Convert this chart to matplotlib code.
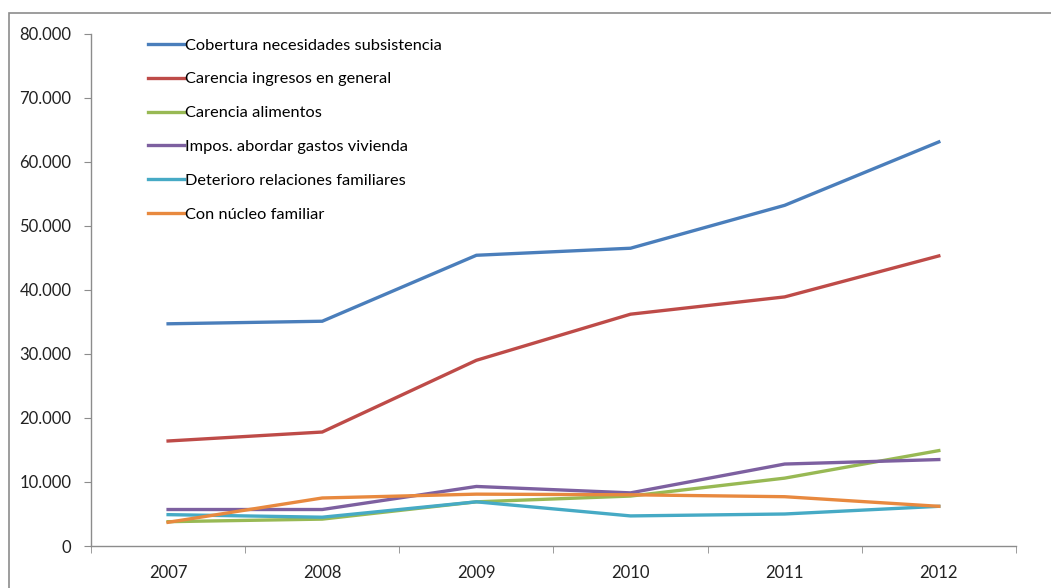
import matplotlib
matplotlib.use("Agg")
import matplotlib.pyplot as plt
from matplotlib.patches import Rectangle
from matplotlib.ticker import FuncFormatter, FixedLocator

# years and series (number of people per reason)
years = ["2007", "2008", "2009", "2010", "2011", "2012"]
cobertura = [34700, 35100, 45400, 46500, 53200, 63100]
carencia_ingresos = [16400, 17800, 29000, 36200, 38900, 45300]
carencia_alimentos = [3800, 4200, 6900, 7800, 10600, 14900]
impos_vivienda = [5700, 5700, 9300, 8300, 12800, 13500]
deterioro_relaciones = [4900, 4500, 6900, 4700, 5000, 6200]
nucleo_familiar = [3700, 7500, 8100, 8000, 7700, 6200]

labels = ["Cobertura necesidades subsistencia",
          "Carencia ingresos en general",
          "Carencia alimentos",
          "Impos. abordar gastos vivienda",
          "Deterioro relaciones familiares",
          "Con núcleo familiar"]
colors = ["#4A7EBB", "#BE4B48", "#98B954", "#7D60A0", "#46AAC5", "#E8893F"]
series = [cobertura, carencia_ingresos, carencia_alimentos,
          impos_vivienda, deterioro_relaciones, nucleo_familiar]

plt.rcParams['font.family'] = ['Lato', 'DejaVu Sans']

fig = plt.figure(figsize=(10.51, 5.88), dpi=100)
ax = fig.add_axes([0.0866, 0.0714, 0.88, 0.8713])

# outer chart border
fig.patches.append(Rectangle((9 / 1051, -0.01), 1.0, (588 - 13) / 588 + 0.01,
                             transform=fig.transFigure, fill=False,
                             edgecolor="#8c8c8c", linewidth=1.2))

x = range(len(years))
for vals, lab, col in zip(series, labels, colors):
    ax.plot(x, vals, color=col, linewidth=2.4, label=lab,
            solid_joinstyle="miter")

ax.set_xlim(-0.5, len(years) - 0.5)
ax.set_ylim(0, 80000)
ax.set_yticks(range(0, 80001, 10000))
ax.yaxis.set_major_formatter(FuncFormatter(
    lambda v, p: "0" if v == 0 else f"{int(v):,}".replace(",", ".")))

ax.set_xticks(list(x))
ax.set_xticklabels(years)
ax.xaxis.set_minor_locator(FixedLocator([i - 0.5 for i in range(len(years) + 1)]))
ax.tick_params(axis="x", which="major", length=0, pad=14, labelsize=12,
               labelcolor="#222222")
ax.tick_params(axis="x", which="minor", length=5, color="#8c8c8c")
ax.tick_params(axis="y", length=5, color="#8c8c8c", labelsize=12,
               labelcolor="#222222", pad=9)

for s in ["top", "right"]:
    ax.spines[s].set_visible(False)
for s in ["left", "bottom"]:
    ax.spines[s].set_color("#8c8c8c")
    ax.spines[s].set_linewidth(1.0)

leg = ax.legend(loc="upper left", bbox_to_anchor=(0.046, 1.02), frameon=False,
                fontsize=11.8, labelspacing=1.18, handlelength=2.15,
                handletextpad=0.1)

fig.savefig("out.png", dpi=100)
